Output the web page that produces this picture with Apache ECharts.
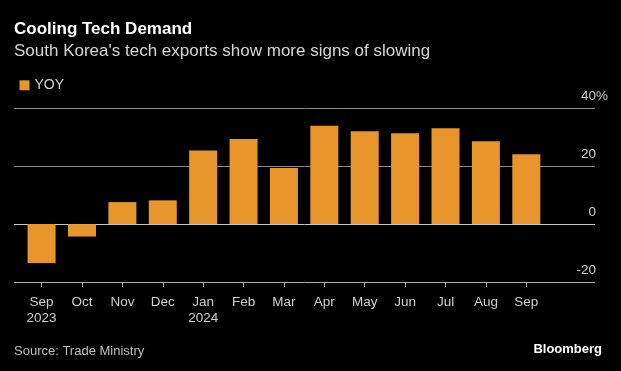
<!DOCTYPE html>
<html>
<head>
<meta charset="utf-8">
<script src="https://cdn.jsdelivr.net/npm/echarts@6/dist/echarts.min.js"></script>
<style>
  html, body { margin: 0; padding: 0; background: #000; }
  #chart { width: 621px; height: 371px; }
</style>
</head>
<body>
<div id="chart"></div>
<script>
const months = ['Sep', 'Oct', 'Nov', 'Dec', 'Jan', 'Feb', 'Mar', 'Apr', 'May', 'Jun', 'Jul', 'Aug', 'Sep'];
const yearLabels = ['2023', '', '', '', '2024', '', '', '', '', '', '', '', ''];
const yoyValues = [-13.4, -4.3, 7.6, 8.2, 25.4, 29.4, 19.4, 34.0, 32.1, 31.4, 33.1, 28.6, 24.1];
const yTicks = [-20, 0, 20, 40];

const FONT = "'Liberation Sans', Arial, Helvetica, sans-serif";
const chart = echarts.init(document.getElementById('chart'), null, { renderer: 'canvas' });

const gridTop = 108.3, gridBottom = 371 - 282;

chart.setOption({
  backgroundColor: '#000',
  animation: false,
  textStyle: { fontFamily: FONT },
  graphic: [
    { type: 'text', left: 14, top: 20.5, style: { text: 'Cooling Tech Demand', font: "bold 17px " + FONT, fill: '#ffffff' } },
    { type: 'text', left: 14, top: 43, style: { text: "South Korea's tech exports show more signs of slowing", font: "17px " + FONT, fill: '#d6d6d6' } },
    { type: 'text', left: 14, top: 344.5, style: { text: 'Source: Trade Ministry', font: "13px " + FONT, fill: '#bdbdbd' } },
    { type: 'text', right: 19, top: 342.5, style: { text: 'Bloomberg', font: "bold 13px " + FONT, fill: '#ffffff' } }
  ],
  legend: {
    left: 14.5, top: 73.3,
    icon: 'rect', itemWidth: 10, itemHeight: 10,
    textStyle: { color: '#d6d6d6', fontSize: 14, fontFamily: FONT },
    data: ['YOY']
  },
  grid: [
    { left: 14, right: 26, top: gridTop, bottom: gridBottom },
    { left: 21.4, width: 525.1, top: gridTop, bottom: gridBottom }
  ],
  xAxis: [
    { type: 'value', gridIndex: 0, min: 0, max: 1, show: false },
    {
      type: 'category', gridIndex: 1, data: months, position: 'bottom',
      axisLine: { show: false, onZero: false },
      axisTick: { show: true, alignWithLabel: true, length: 5, lineStyle: { color: '#b0b0b0' } },
      axisLabel: {
        color: '#cfcfcf', fontSize: 13.5, lineHeight: 16, margin: 12,
        fontFamily: FONT,
        formatter: (v, i) => yearLabels[i] ? v + '\n' + yearLabels[i] : v
      }
    }
  ],
  yAxis: [
    {
      type: 'value', gridIndex: 0, position: 'right',
      min: yTicks[0], max: yTicks[yTicks.length - 1], interval: 20,
      axisLine: { show: false }, axisTick: { show: false },
      splitLine: { show: true, lineStyle: { color: ['#b0b0b0', '#c8c8c8', '#8c8c8c', '#8c8c8c'], width: 1 } },
      axisLabel: {
        inside: true, margin: -13,
        verticalAlign: 'bottom', lineHeight: 14, padding: [0, 0, 5, 0],
        color: '#cfcfcf', fontSize: 13.5, fontFamily: FONT,
        formatter: v => v === 40 ? '{v|' + v + '}{p|%}' : '{v|' + v + '}{h|%}',
        rich: {
          v: { color: '#cfcfcf', fontSize: 13.5, fontFamily: FONT },
          p: { color: '#cfcfcf', fontSize: 13.5, fontFamily: FONT },
          h: { color: 'rgba(0,0,0,0)', fontSize: 13.5, fontFamily: FONT }
        }
      }
    },
    { type: 'value', gridIndex: 1, min: -20, max: 40, interval: 20, show: false }
  ],
  series: [
    {
      name: 'YOY', type: 'bar', xAxisIndex: 1, yAxisIndex: 1,
      data: yoyValues, barWidth: 28,
      itemStyle: { color: '#E8952B' }
    }
  ]
});
</script>
</body>
</html>
